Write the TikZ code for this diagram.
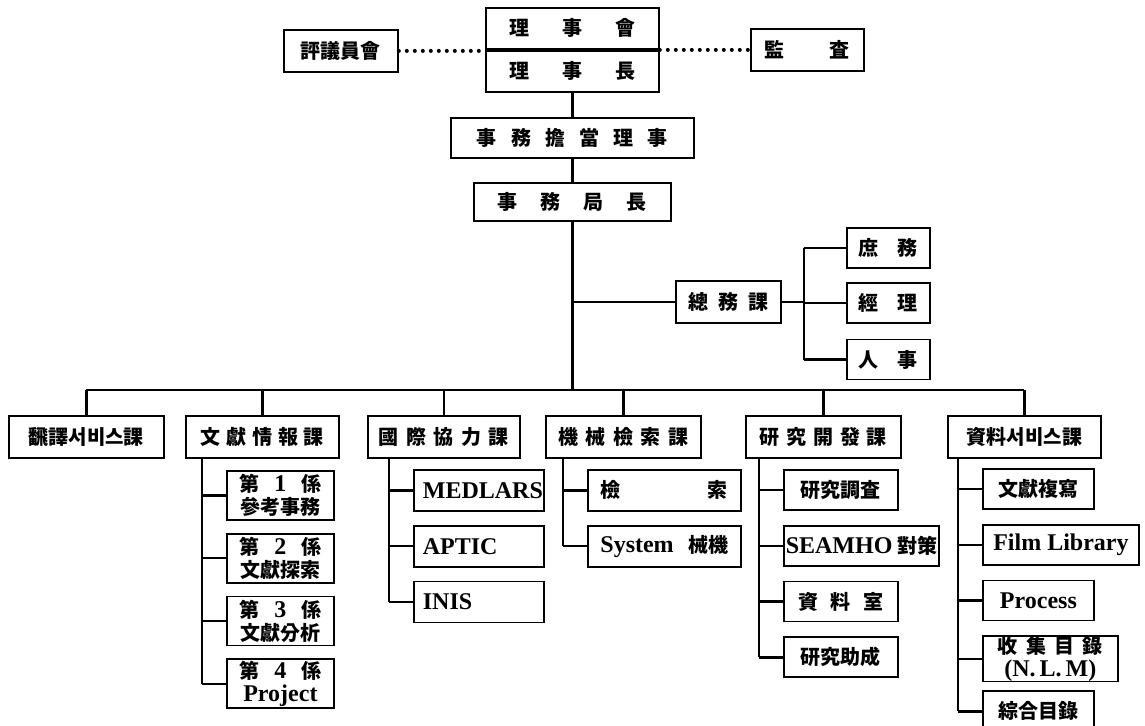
\documentclass[tikz,border=0pt]{standalone}
\usepackage{fontspec}
\usepackage{tikz}
\usetikzlibrary{positioning,calc}
\newfontfamily\kr{Noto Sans CJK KR}
\newfontfamily\latf{Liberation Serif}
\newcommand\lat[1]{{\latf\bfseries\fontsize{12}{12}\selectfont #1}}
\newcommand\spreadtxt[2]{\makebox[#1][s]{#2}}
\tikzset{orgbox/.style={draw, line width=0.9pt, inner sep=0pt, anchor=north west, align=center, font=\kr\bfseries\fontsize{10}{11.5}\selectfont}}
\tikzset{secbox/.style={orgbox, minimum height=21pt}}
\tikzset{orgline/.style={draw, line width=1.2pt}}
\tikzset{dotline/.style={draw, line width=2pt, line cap=round, dash pattern=on 0pt off 4pt}}
\newcommand\kidspine[3]{% section, kid prefix, last kid
		\coordinate (sp-#2) at ([xshift=-12pt]#21.west);
		\draw[orgline] (sp-#2 |- #1.south) -- (sp-#2 |- #2#3.west);
		\foreach \k in {1,...,#3} \draw[orgline] (sp-#2 |- #2\k.west) -- (#2\k.west);
		}
\begin{document}
\begin{tikzpicture}[x=0.5pt, y=-0.5pt]
	\useasboundingbox (0,0) rectangle (1145,725);
	% top of the chart
	\node[orgbox, minimum width=57pt, minimum height=21pt] (council) at (283,29) {評議員會};
	\node[orgbox, minimum width=86.5pt, minimum height=20.5pt] (board1) at (485,7) {\spreadtxt{63pt}{理 事 會}};
	\node[orgbox, minimum width=86.5pt, minimum height=20.5pt, below=0pt of board1.south west, anchor=north west] (board2) {\spreadtxt{63pt}{理 事 長}};
	\node[orgbox, minimum width=56.5pt, minimum height=21pt] (audit) at (750,28) {\spreadtxt{42.5pt}{監 査}};
	\draw[dotline] (council.east) -- (council.east -| board1.west);
	\draw[dotline] (audit.west -| board1.east) -- (audit.west);
	\node[orgbox, minimum width=121.5pt, minimum height=20pt] (exec) at (450,117) {\spreadtxt{95.5pt}{事 務 擔 當 理 事}};
	\node[orgbox, minimum width=98.5pt, minimum height=19pt] (chief) at (473,182) {\spreadtxt{74.5pt}{事 務 局 長}};
	\draw[orgline] (board2.south) -- (exec.north);
	\draw[orgline] (exec.south) -- (chief.north);

	% general affairs
	\node[orgbox, minimum width=52.5pt, minimum height=21pt] (admin) at (675,280) {\spreadtxt{40pt}{總 務 課}};
	\node[orgbox, minimum width=41.5pt, minimum height=20pt] (gen1) at (846,227) {\spreadtxt{29.5pt}{庶 務}};
	\node[orgbox, minimum width=41.5pt, minimum height=20pt, below=6.5pt of gen1.south west, anchor=north west] (gen2) {\spreadtxt{29.5pt}{經 理}};
	\node[orgbox, minimum width=41.5pt, minimum height=20pt, below=7.5pt of gen2.south west, anchor=north west] (gen3) {\spreadtxt{29.5pt}{人 事}};
	\coordinate (busy) at (0,390);
	\coordinate (gspine) at ([xshift=11pt]admin.east);
	\draw[orgline] (chief.south) -- (chief.south |- busy);
	\draw[orgline] (chief.south |- admin.west) -- (admin.west);
	\draw[orgline] (admin.east) -- (gspine);
	\draw[orgline] (gspine |- gen1.west) -- (gspine |- gen3.west);
	\foreach \g in {gen1,gen2,gen3} \draw[orgline] (gspine |- \g.west) -- (\g.west);

	% sections
	\node[secbox, minimum width=77.5pt] (sec1) at (8,415) {飜譯서비스課};
	\node[secbox, minimum width=76.5pt] (sec2) at (185,415) {\spreadtxt{61.5pt}{文 獻 情 報 課}};
	\node[secbox, minimum width=76pt] (sec3) at (367,415) {\spreadtxt{65pt}{國 際 協 力 課}};
	\node[secbox, minimum width=77.5pt] (sec4) at (545,415) {\spreadtxt{65pt}{機 械 檢 索 課}};
	\node[secbox, minimum width=77.5pt] (sec5) at (745,415) {\spreadtxt{63.5pt}{研 究 開 發 課}};
	\node[secbox, minimum width=76.5pt] (sec6) at (947,415) {資料서비스課};
	\draw[orgline] (sec1.north |- busy) -- (sec6.north |- busy);
	\foreach \s in {sec1,sec2,sec3,sec4,sec5,sec6} \draw[orgline] (\s.north) -- (\s.north |- busy);

	% literature information
	\node[orgbox, minimum width=53.5pt, minimum height=24.5pt] (lit1) at (226,470) {\spreadtxt{41pt}{第 \lat{1} 係}\\參考事務};
	\node[orgbox, minimum width=53.5pt, minimum height=24.5pt, below=6pt of lit1.south west, anchor=north west] (lit2) {\spreadtxt{41pt}{第 \lat{2} 係}\\文獻探索};
	\node[orgbox, minimum width=53.5pt, minimum height=24.5pt, below=6pt of lit2.south west, anchor=north west] (lit3) {\spreadtxt{41pt}{第 \lat{3} 係}\\文獻分析};
	\node[orgbox, minimum width=53.5pt, minimum height=24.5pt, below=6pt of lit3.south west, anchor=north west] (lit4) {\spreadtxt{41pt}{第 \lat{4} 係}\\\lat{Project}};
	\kidspine{sec2}{lit}{4}

	% international cooperation
	\node[orgbox, minimum width=65pt, minimum height=20.5pt, text width=56pt, align=left] (intl1) at (413,469) {\lat{MEDLARS}};
	\node[orgbox, minimum width=65pt, minimum height=20.5pt, text width=56pt, align=left, below=6.5pt of intl1.south west, anchor=north west] (intl2) {\lat{APTIC}};
	\node[orgbox, minimum width=65pt, minimum height=20.5pt, text width=56pt, align=left, below=6.5pt of intl2.south west, anchor=north west] (intl3) {\lat{INIS}};
	\kidspine{sec3}{intl}{3}

	% machine retrieval
	\node[orgbox, minimum width=76.5pt, minimum height=20.5pt] (mach1) at (587,469) {\spreadtxt{63.5pt}{檢 索}};
	\node[orgbox, minimum width=76.5pt, minimum height=20.5pt, below=6.5pt of mach1.south west, anchor=north west] (mach2) {\spreadtxt{64pt}{\lat{System} 械機}};
	\kidspine{sec4}{mach}{2}

	% research and development
	\node[orgbox, minimum width=57pt, minimum height=20pt] (res1) at (783,469) {研究調査};
	\node[orgbox, minimum width=77.5pt, minimum height=20pt, below=7pt of res1.south west, anchor=north west] (res2) {\lat{SEAMHO} 對策};
	\node[orgbox, minimum width=57pt, minimum height=20pt, below=7pt of res2.south west, anchor=north west] (res3) {\spreadtxt{42.5pt}{資 料 室}};
	\node[orgbox, minimum width=57pt, minimum height=20pt, below=7pt of res3.south west, anchor=north west] (res4) {研究助成};
	\kidspine{sec5}{res}{4}

	% data service
	\node[orgbox, minimum width=55.5pt, minimum height=20pt] (data1) at (982,468) {文獻複寫};
	\node[orgbox, minimum width=78pt, minimum height=20pt, below=7pt of data1.south west, anchor=north west] (data2) {\lat{Film Library}};
	\node[orgbox, minimum width=55.5pt, minimum height=20pt, below=7pt of data2.south west, anchor=north west] (data3) {\lat{Process}};
	\node[orgbox, minimum width=67.5pt, minimum height=22.5pt, below=7pt of data3.south west, anchor=north west] (data4) {\spreadtxt{52.5pt}{收 集 目 錄}\\\lat{(N.\,L.\,M)}};
	\node[orgbox, minimum width=55.5pt, minimum height=20pt, below=4pt of data4.south west, anchor=north west] (data5) {綜合目錄};
	\kidspine{sec6}{data}{5}
\end{tikzpicture}
\end{document}
